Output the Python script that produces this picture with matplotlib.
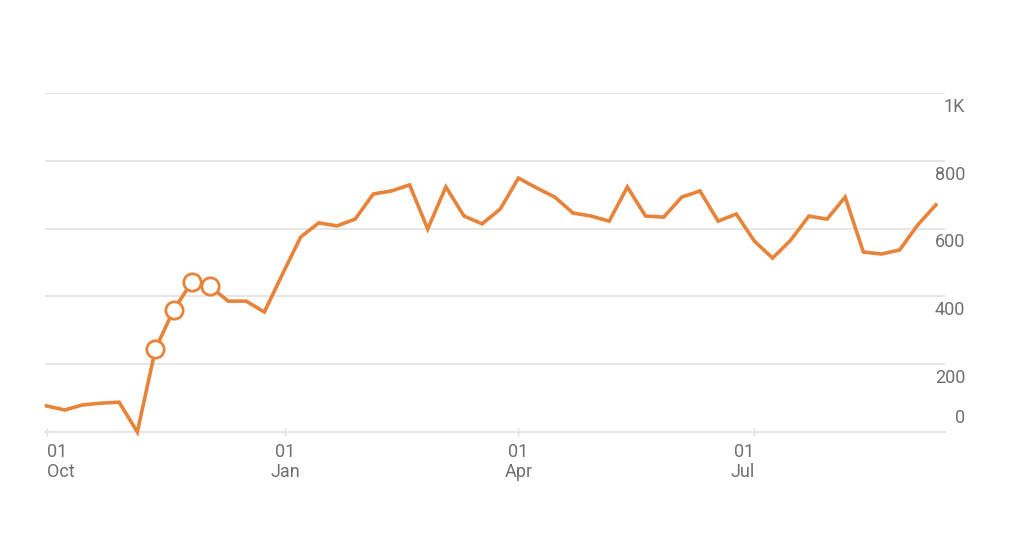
import matplotlib
matplotlib.use("Agg")
import matplotlib.pyplot as plt
import numpy as np
import pandas as pd

plt.rcParams['font.family'] = ['Roboto', 'DejaVu Sans']

# ---- data ----
start_date = "2017-10-01"
n_weeks = 50
values = [77, 65, 80, 85, 88, 0, 245, 360, 442, 431,
          386, 386, 354, 466, 575, 617, 608, 628, 702, 711,
          729, 599, 723, 637, 614, 658, 749, 720, 693, 646,
          637, 622, 723, 637, 634, 693, 711, 622, 643, 563,
          513, 566, 637, 628, 693, 531, 525, 537, 611, 670]
highlight_idx = [6, 7, 8, 9]
y_ticks = [0, 200, 400, 600, 800, 1000]
y_labels = ["0", "200", "400", "600", "800", "1K"]
x_tick_dates = ["2017-10-01", "2018-01-01", "2018-04-01", "2018-07-01"]
x_tick_labels = ["01\nOct", "01\nJan", "01\nApr", "01\nJul"]
x_tick_ha = ["left", "center", "center", "right"]

dates = pd.date_range(start_date, periods=n_weeks, freq="7D")

LINE = "#E8833A"
GRID = "#E6E6E6"
TXT = "#707070"

fig = plt.figure(figsize=(10.24, 5.43), dpi=100)
ax = fig.add_axes([45/1024, 1 - 432/543, 900/1024, (432 - 93)/543])

ax.plot(dates, values, color=LINE, lw=2.6, solid_joinstyle="miter", zorder=3, clip_on=False)
hd = [dates[i] for i in highlight_idx]
hv = [values[i] for i in highlight_idx]
ax.plot(hd, hv, linestyle="none", marker="o", markersize=12.5, markerfacecolor="white",
        markeredgecolor=LINE, markeredgewidth=2.0, zorder=4, clip_on=False)

ax.set_ylim(0, 1000)
ax.set_xlim(pd.Timestamp("2017-10-01") - pd.Timedelta(days=0.6),
            pd.Timestamp("2018-07-01") + pd.Timedelta(days=73.5))

# grid
ax.set_yticks(y_ticks)
ax.yaxis.grid(True, color=GRID, lw=1.4)
ax.tick_params(axis="y", length=0, labelleft=False, labelright=False)
for s in ["top", "right", "left"]:
    ax.spines[s].set_visible(False)
ax.spines["bottom"].set_color(GRID)
ax.spines["bottom"].set_linewidth(1.4)
ax.set_axisbelow(True)

# y labels (placed beside the gridlines)
for v, lbl in zip(y_ticks, y_labels):
    dy = 10 if v == 0 else -10
    ax.annotate(lbl, xy=(1.0, v), xycoords=("axes fraction", "data"),
                xytext=(14.4, dy), textcoords="offset points",
                ha="right", va="center", fontsize=13, color=TXT)

# x ticks
ax.set_xticks([pd.Timestamp(d) for d in x_tick_dates])
ax.set_xticklabels(x_tick_labels, fontsize=13, color=TXT, linespacing=1.12)
for t, ha in zip(ax.get_xticklabels(), x_tick_ha):
    t.set_ha(ha)
ax.tick_params(axis="x", direction="inout", length=6, width=1.0, color="#DDDDDD", pad=5)

fig.savefig("out.png", dpi=100, facecolor="white")
